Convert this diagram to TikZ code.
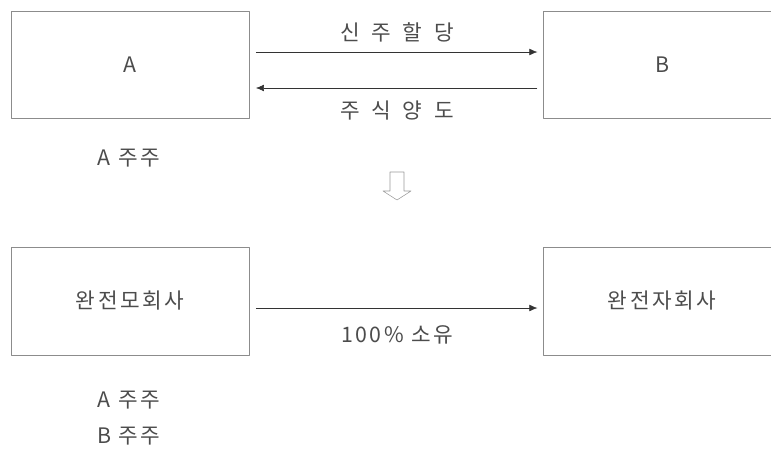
\documentclass[tikz,border=0pt]{standalone}
\usepackage{fontspec}
\setmainfont{Noto Sans CJK KR}[LetterSpace=12]
\newfontfamily\krwide{Noto Sans CJK KR}[LetterSpace=12,WordSpace=1.6]
\usetikzlibrary{arrows.meta}
\tikzset{
  box/.style={draw=black!45, minimum width=178.5pt, minimum height=80pt, inner sep=0pt, text=black!70},
  conn/.style={-{Latex[length=6pt,width=5pt]}, black!80},
  lbl/.style={text=black!70, inner sep=0pt}
}
\begin{document}
\begin{tikzpicture}[x=0.75pt,y=-0.75pt,line join=round,font=\fontsize{16}{18}\selectfont]
		%==frame (pixel units)
		\useasboundingbox (0,0) rectangle (771,450);
		\clip (0,0) rectangle (771,450);
		%==before
		\node[box] (A) at (130,65) {A};
		\node[box] (B) at (662,65) {B};
		\draw[conn] ([xshift=5pt,yshift=9.75pt]A.east) -- ([xshift=-4pt,yshift=9.75pt]B.west);
		\draw[conn] ([xshift=-4pt,yshift=-17.25pt]B.west) -- ([xshift=5pt,yshift=-17.25pt]A.east);
		\node[lbl,font=\krwide\fontsize{16}{18}\selectfont] (give) at (397,32) {신 주 할 당};
		\node[lbl,font=\krwide\fontsize{16}{18}\selectfont] (take) at (397,111) {주 식 양 도};
		\node[lbl] (ashA) at (129,158) {A 주주};
		%==hollow down arrow
		\draw[black!40] (390,172) -- (390,191) -- (383,191) -- (397,200) -- (411,191) -- (404,191) -- (404,172) -- cycle;
		%==after
		\node[box, minimum height=81pt] (P) at (130,301) {완전모회사};
		\node[box, minimum height=81pt] (S) at (662,301) {완전자회사};
		\draw[conn] ([xshift=5pt,yshift=-5.25pt]P.east) -- ([xshift=-4pt,yshift=-5.25pt]S.west);
		\node[lbl] (own) at (397,335) {100\% 소유};
		\node[lbl] (ashP) at (129,400) {A 주주};
		\node[lbl] (bshP) at (129,436) {B 주주};
		\end{tikzpicture}
\end{document}
